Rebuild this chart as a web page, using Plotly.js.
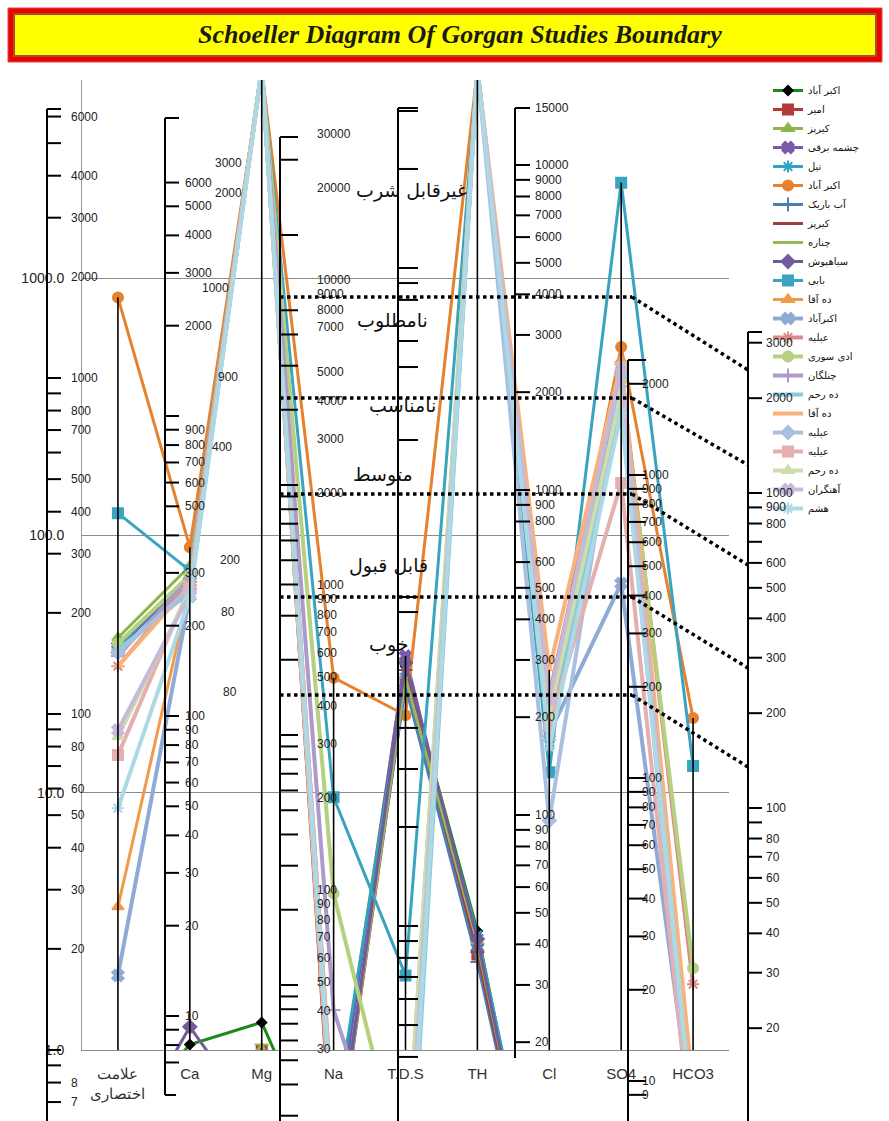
<!DOCTYPE html>
<html><head><meta charset="utf-8">
<script src="https://cdn.plot.ly/plotly-3.0.1.min.js"></script>
<style>html,body{margin:0;padding:0;background:#fff}#g{width:889px;height:1121px}</style>
</head><body><div id="g"></div>
<script>
// ---------- DATA ----------
const categories = ['علامت<br>اختصاری','Ca','Mg','Na','T.D.S','TH','Cl','SO4','HCO3'];
const seriesNames = ['اکبر آباد','امیر','کیرپز','چشمه برقی','تیل','اکبر آباد','آب باریک','کیرپز','چناره','سیاهپوش','بابی','ده آقا','اکبرآباد','عیلیه','ادی سوری','چنلگان','ده رحم','ده آقا','عیلیه','عیلیه','ده رحم','آهنگران','هشم'];
const v01 = [0.5, 1.05, 1.28, 0.3, 31, 2.9, 0.12, 0.1, 0.1];
const v02 = [0.3, 0.5, 1.0, 0.3, 27, 2.35, 0.12, 0.1, 0.1];
const v03 = [40, 76, 6500, 0.45, 33, 2.6, 0.13, 0.1, 0.1];
const v04 = [36, 70, 6500, 0.4, 34, 2.5, 0.12, 0.1, 0.1];
const v05 = [37, 68, 6500, 0.5, 29, 2.8, 0.14, 0.1, 0.1];
const v06 = [840, 90, 6500, 28, 20, 6500, 22, 540, 19.5];
const v07 = [38, 66, 6500, 0.35, 26, 2.2, 0.12, 0.1, 0.1];
const v08 = [35, 64, 6500, 0.3, 30, 2.4, 0.12, 0.1, 0.1];
const v09 = [0.4, 0.45, 1.05, 0.3, 28, 2.6, 0.12, 0.1, 0.1];
const v10 = [0.4, 1.23, 0.5, 0.3, 32, 2.7, 0.12, 0.1, 0.1];
const v11 = [122, 73, 6500, 9.6, 1.95, 6500, 12, 2350, 12.7];
const v12 = [3.6, 62, 6500, 0.4, 0.2, 6500, 20, 480, 0.6];
const v13 = [1.95, 58, 6500, 0.45, 0.15, 6500, 17, 65, 0.5];
const v14 = [31, 66, 6500, 0.5, 0.25, 6500, 24, 430, 1.8];
const v15 = [38, 70, 6500, 4.06, 0.3, 6500, 21, 400, 2.08];
const v16 = [34, 68, 6500, 1.43, 0.2, 6500, 19, 380, 0.5];
const v17 = [36, 60, 6500, 0.4, 0.12, 6500, 16, 350, 0.4];
const v18 = [31, 64, 6500, 0.35, 0.2, 6500, 30, 470, 0.7];
const v19 = [35, 62, 6500, 0.45, 0.15, 6500, 7.8, 420, 0.5];
const v20 = [14, 63, 6500, 0.5, 0.2, 6500, 18.3, 160, 0.4];
const v21 = [16.5, 61, 6500, 0.4, 0.3, 6500, 20, 360, 0.5];
const v22 = [17.5, 59, 6500, 0.4, 0.2, 6500, 23, 450, 0.4];
const v23 = [8.7, 57, 6500, 0.45, 0.15, 6500, 15, 300, 0.5];
const seriesValues = [v01,v02,v03,v04,v05,v06,v07,v08,v09,v10,v11,v12,v13,v14,v15,v16,v17,v18,v19,v20,v21,v22,v23];
const yTickVals = [1, 10, 100, 1000];
const yTickText = ['1.0', '10.0', '100.0', '1000.0'];
const classLabels = ['غیرقابل شرب','نامطلوب','نامناسب','متوسط','قابل قبول','خوب'];
const titleText = 'Schoeller Diagram Of Gorgan Studies Boundary';

// ---------- STYLE ----------
const colors = ['#1A8A1A','#B23A3A','#8DB44A','#7A5AA8','#2EA3C2','#E6812E','#4C7DB5','#9E3F3F','#98B956','#735A9B','#3AA4C0','#F39A4A','#90AAD8','#DA8A88','#B5D07E','#AD9ACB','#86CADC','#FBB27A','#A9C0E0','#E4AFAE','#CCDDAE','#C6BAD8','#ACD9E4'];
const symbols = ['diamond','square','triangle-up','x','asterisk-open','circle','cross-thin-open','line-ew-open','line-ew-open','diamond','square','triangle-up','x','asterisk-open','circle','cross-thin-open','line-ew-open','line-ew-open','diamond','square','triangle-up','x','asterisk-open'];

const L=82, R=729, T=80, B=1050;
const X = px => (px-L)/(R-L);
const Y = py => (B-py)/(B-T);

const traces = seriesValues.map((vals,i)=>({
  type:'scatter', mode:'lines+markers', x:categories, y:vals, name:seriesNames[i],
  line:{color:colors[i], width: i>=12 ? 4 : 3},
  marker:{symbol:symbols[i], size: i===0 ? 7 : 10, color: i===0 ? '#000' : colors[i],
          line:{color: i===0 ? '#000' : colors[i], width: 2}},
  hoverinfo:'skip'
}));

// drop lines from each category maximum down to the axis
const dx=[], dy=[];
categories.forEach((c,j)=>{
  const mx = Math.max(...seriesValues.map(s=>s[j]));
  dx.push(c,c,null); dy.push(mx,1,null);
});
traces.push({type:'scatter',mode:'lines',x:dx,y:dy,showlegend:false,hoverinfo:'skip',
  line:{color:'#000',width:1.6}});

// ---------- DECORATIVE SCALES ----------
const shapes=[], annotations=[];
function ln(x0,y0,x1,y1,w,dash){shapes.push({type:'line',xref:'paper',yref:'paper',x0:X(x0),y0:Y(y0),x1:X(x1),y1:Y(y1),line:{color:'#000',width:w||2,dash:dash||'solid'}});}
function txt(t,x,y,opt){annotations.push(Object.assign({text:t,xref:'paper',yref:'paper',x:X(x),y:Y(y),showarrow:false,xanchor:'left',yanchor:'middle',font:{family:'Arial',size:12,color:'#222'}},opt||{}));}
const yOf=(v,m)=>m.y - m.d*Math.log10(v/1000);
const scales = [
 {x:47,y0:109,y1:1121,len:14,t:{y:378,d:336,v:[6000,5000,4000,3000,1000,900,800,700,600,500,400,300,200,100,90,80,70,60,50,40,30,20,10,9,8,7,6]},
  l:{dx:22,y:378,d:336,v:[6000,4000,3000,2000,1000,800,700,500,400,300,200,100,80,60,50,40,30,20,8,7,6]}},
 {x:165,y0:118,y1:1095,len:14,t:{y:416,d:300,v:[6000,5000,4000,3000,2000,1000,900,800,700,600,500,400,300,200,100,90,80,70,60,50,40,30,20,10,9,8,7]},
  l:{dx:18,y:416,d:300,v:[6000,5000,4000,3000,2000,900,800,700,600,500,300,200,100,90,80,70,60,50,40,30,20,10]}},
 {x:280,y0:137,y1:1121,len:18,t:{y:485,d:250,v:[20000,10000,5000,4000,3000,2000,1000,900,800,700,600,500,400,300,200,100,90,80,70,60,50,40,30,20,10,9,8,7,6,5,4,3]},
  l:{dx:35,y:585,d:305,v:[30000,20000,10000,9000,8000,7000,5000,4000,3000,2000,1000,900,800,700,600,500,400,300,200,100,90,80,70,60,50,40,30]}},
 {x:398,y0:108,y1:1121,len:20,t:{y:597,d:329,v:[30000,20000,10000,9000,8000,6000,5000,3000,1000,900,400,300,200,100,90,80,70,60,50,40]},l:null},
 {x:515,y0:108,y1:1058,len:15,t:{y:490,d:325,v:[10000,9000,8000,7000,6000,5000,4000,3000,2000,1000,900,800,600,500,400,300,200,100,90,80,70,60,50,40,30,20]},
  l:{dx:18,y:490,d:325,v:[15000,10000,9000,8000,7000,6000,5000,4000,3000,2000,1000,900,800,600,500,400,300,200,100,90,80,70,60,50,40,30,20]}},
 {x:628,y0:360,y1:1121,len:18,t:{y:475,d:303,v:[2000,1000,900,800,700,600,500,400,300,200,100,90,80,70,60,50,40,30,20,10,9]},
  l:{dx:12,y:475,d:303,v:[2000,1000,900,800,700,600,500,400,300,200,100,90,80,70,60,50,40,30,20,10,9]}},
 {x:748,y0:332,y1:1121,len:14,t:{y:493,d:315,v:[3000,2000,1000,900,800,700,600,500,400,300,200,100,90,80,70,60,50,40,30,20,10]},
  l:{dx:16,y:493,d:315,v:[3000,2000,1000,900,800,600,500,400,300,200,100,80,70,60,50,40,30,20,10]}}
];
scales.forEach(s=>{
  ln(s.x,s.y0,s.x,s.y1,2);
  ln(s.x,s.y0,s.x+s.len,s.y0,2);
  s.t.v.forEach(v=>{const y=yOf(v,s.t); if(y>s.y0+3 && y<s.y1) ln(s.x,y,s.x+s.len,y,2);});
  if(s.l) s.l.v.forEach(v=>{const y=yOf(v,s.l); if(y>90 && y<1118) txt(String(v),s.x+s.l.dx,y);});
});
ln(165,1095,176,1095,2);
// floating labels of the Mg scale
[['3000',228,163],['2000',228,193],['1000',215,288],['900',228,377],['400',222,447],['200',230,560],['80',228,612],['80',230,692]]
  .forEach(a=>txt(a[0],a[1],a[2],{xanchor:'center'}));

// quality class borders (dotted)
[[297,370],[398,465],[494,565],[597,668],[695,767]].forEach(b=>{
  ln(280,b[0],632,b[0],3.5,'dot'); ln(632,b[0],748,b[1],3.5,'dot');
});
// quality class names
[[412,190],[392,320],[402,405],[383,474],[388,565],[388,645]].forEach((p,i)=>
  txt(classLabels[i],p[0],p[1],{xanchor:'center',font:{family:'DejaVu Sans',size:19,color:'#111'}}));

// title box
shapes.push({type:'rect',xref:'paper',yref:'paper',x0:X(8),x1:X(882),y0:Y(62),y1:Y(8),fillcolor:'#F20000',line:{color:'#C85050',width:1}});
shapes.push({type:'rect',xref:'paper',yref:'paper',x0:X(14),x1:X(876),y0:Y(56),y1:Y(14),fillcolor:'#FFFF00',line:{color:'#A0522D',width:2}});
annotations.push({text:'<b><i>'+titleText+'</i></b>',xref:'paper',yref:'paper',x:X(460),y:Y(35),showarrow:false,
  xanchor:'center',yanchor:'middle',font:{family:'Liberation Serif',size:26,color:'#1a1a1a'}});

const layout = {
  width:889,height:1121,margin:{l:L,r:889-R,t:T,b:1121-B},
  paper_bgcolor:'#fff',plot_bgcolor:'#fff',
  showlegend:true,
  legend:{x:X(768),y:Y(76),xanchor:'left',yanchor:'top',bgcolor:'rgba(0,0,0,0)',
          font:{family:'DejaVu Sans',size:10,color:'#111'},tracegroupgap:0},
  xaxis:{type:'category',range:[-0.5,8.5],showgrid:false,showline:true,linecolor:'#888',ticks:'',
         tickfont:{family:'Arial',size:15,color:'#333'},ticklabelstandoff:10,fixedrange:true},
  yaxis:{type:'log',range:[0,3.77],tickvals:yTickVals,ticktext:yTickText,gridcolor:'#8c8c8c',gridwidth:1,
         showline:true,linecolor:'#999',ticks:'',tickfont:{family:'Arial',size:14,color:'#222'},ticklabelstandoff:14,fixedrange:true},
  shapes:shapes, annotations:annotations
};
Plotly.newPlot('g',traces,layout,{staticPlot:true,displayModeBar:false});
</script></body></html>
